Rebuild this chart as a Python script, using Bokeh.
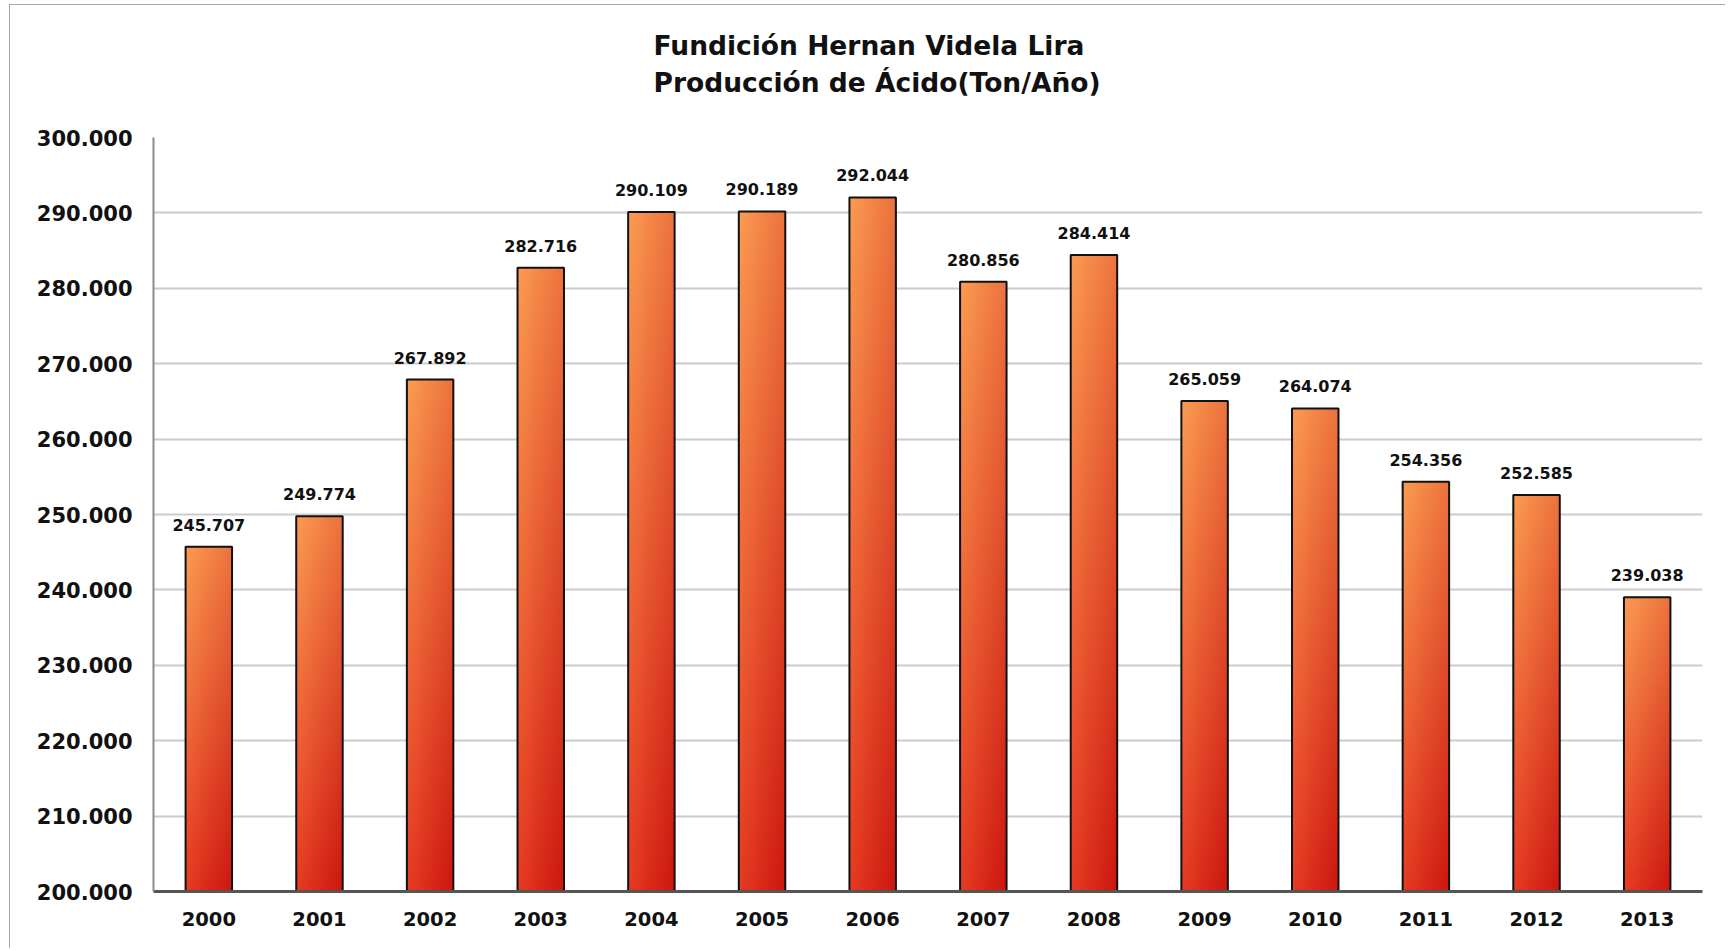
import numpy as np
from bokeh.plotting import figure
from bokeh.models import ColumnDataSource, FixedTicker, LabelSet, Range1d
from bokeh.core.properties import value
from bokeh.embed import file_html
from bokeh.resources import INLINE

# ---- data ----
years = ["2000", "2001", "2002", "2003", "2004", "2005", "2006",
         "2007", "2008", "2009", "2010", "2011", "2012", "2013"]
produccion = [245707, 249774, 267892, 282716, 290109, 290189, 292044,
              280856, 284414, 265059, 264074, 254356, 252585, 239038]
y_ticks = [200000, 210000, 220000, 230000, 240000, 250000,
           260000, 270000, 280000, 290000, 300000]
title_lines = ["Fundición Hernan Videla Lira", "Producción de Ácido(Ton/Año)"]

Y0, Y1 = 200000, 300000
BAR_W = 0.42
FONT = "DejaVu Sans"

FRAME_W, FRAME_H = 1549, 754
W, H = 1716, 944
ML, MT = 143, 132

xs = list(range(len(years)))
labels = [f"{v:,}".replace(",", ".") for v in produccion]

# ---- gradient image for the bars (top-left orange -> bottom-right red) ----
def hexrgb(h):
    h = h.lstrip("#")
    return np.array([int(h[i:i + 2], 16) for i in (0, 2, 4)], dtype=float)

tl, tr = hexrgb("#FB9C52"), hexrgb("#EC723E")
bl, br = hexrgb("#E63C22"), hexrgb("#CC1610")
GH, GW = 256, 48
u = np.linspace(0, 1, GW)[None, :, None]           # left -> right
t = np.linspace(0, 1, GH)[:, None, None]           # bottom(0) -> top(1)
top = tl * (1 - u) + tr * u
bot = bl * (1 - u) + br * u
rgb = bot * (1 - t) + top * t
img = np.empty((GH, GW), dtype=np.uint32)
view = img.view(dtype=np.uint8).reshape((GH, GW, 4))
view[:, :, 0:3] = np.clip(rgb, 0, 255).astype(np.uint8)
view[:, :, 3] = 255

p = figure(width=W, height=H, output_backend="svg", toolbar_location=None,
           x_range=Range1d(-0.5, len(years) - 0.5), y_range=Range1d(Y0, Y1),
           min_border_left=ML, min_border_right=W - ML - FRAME_W,
           min_border_top=MT, min_border_bottom=H - MT - FRAME_H, tools="")
p.styles = {"margin-left": "9px", "margin-top": "4px",
            "border-left": "1px solid #a8a8a8", "border-top": "1px solid #a8a8a8"}

p.outline_line_color = None
p.background_fill_color = "white"
p.border_fill_color = "white"

# title: two lines (trailing blank line lifts the block away from the frame)
p.title.text = "\n".join(title_lines) + "\n"
p.title.align = "left"
p.title.offset = 500
p.title.standoff = 6
p.title.text_font = FONT
p.title.text_font_style = "bold"
p.title.text_font_size = "26.5px"
p.title.text_line_height = 1.18
p.title.text_color = "#111111"

# grid
p.xgrid.grid_line_color = None
p.ygrid.grid_line_color = "#cccccc"
p.ygrid.grid_line_width = 2

# axes
p.yaxis.ticker = FixedTicker(ticks=y_ticks)
p.yaxis.major_label_overrides = {t_: f"{t_:,}".replace(",", ".") for t_ in y_ticks}
p.yaxis.axis_line_color = "#8c8c8c"
p.yaxis.axis_line_width = 2
p.yaxis.major_tick_line_color = None
p.yaxis.major_tick_out = 0
p.yaxis.major_tick_in = 0
p.yaxis.minor_tick_line_color = None
p.yaxis.major_label_standoff = 21
p.yaxis.major_label_text_font = FONT
p.yaxis.major_label_text_font_style = "bold"
p.yaxis.major_label_text_font_size = "21px"
p.yaxis.major_label_text_color = "#111111"

p.xaxis.ticker = FixedTicker(ticks=xs)
p.xaxis.major_label_overrides = {i: y for i, y in zip(xs, years)}
p.xaxis.axis_line_color = "#555555"
p.xaxis.axis_line_width = 3
p.xaxis.major_tick_line_color = None
p.xaxis.major_tick_out = 0
p.xaxis.major_tick_in = 0
p.xaxis.minor_tick_line_color = None
p.xaxis.major_label_standoff = 20
p.xaxis.major_label_text_font = FONT
p.xaxis.major_label_text_font_style = "bold"
p.xaxis.major_label_text_font_size = "19.5px"
p.xaxis.major_label_text_color = "#111111"

# bars: gradient fill via image, then black outline
src = ColumnDataSource(dict(
    x=xs, top=produccion, lbl=labels,
    img=[img] * len(xs),
    ix=[x - BAR_W / 2 for x in xs],
    iy=[Y0] * len(xs),
    dw=[BAR_W] * len(xs),
    dh=[v - Y0 for v in produccion],
))
p.image_rgba(image="img", x="ix", y="iy", dw="dw", dh="dh", source=src)
p.vbar(x="x", top="top", bottom=Y0, width=BAR_W, source=src,
       fill_alpha=0, line_color="#111111", line_width=2)

p.add_layout(LabelSet(x="x", y="top", text="lbl", source=src,
                      text_align="center", text_baseline="bottom",
                      y_offset=16, text_font=value(FONT),
                      text_font_style="bold", text_font_size="16px",
                      text_color="#111111"))

open("out.html", "w").write(file_html(p, INLINE))
